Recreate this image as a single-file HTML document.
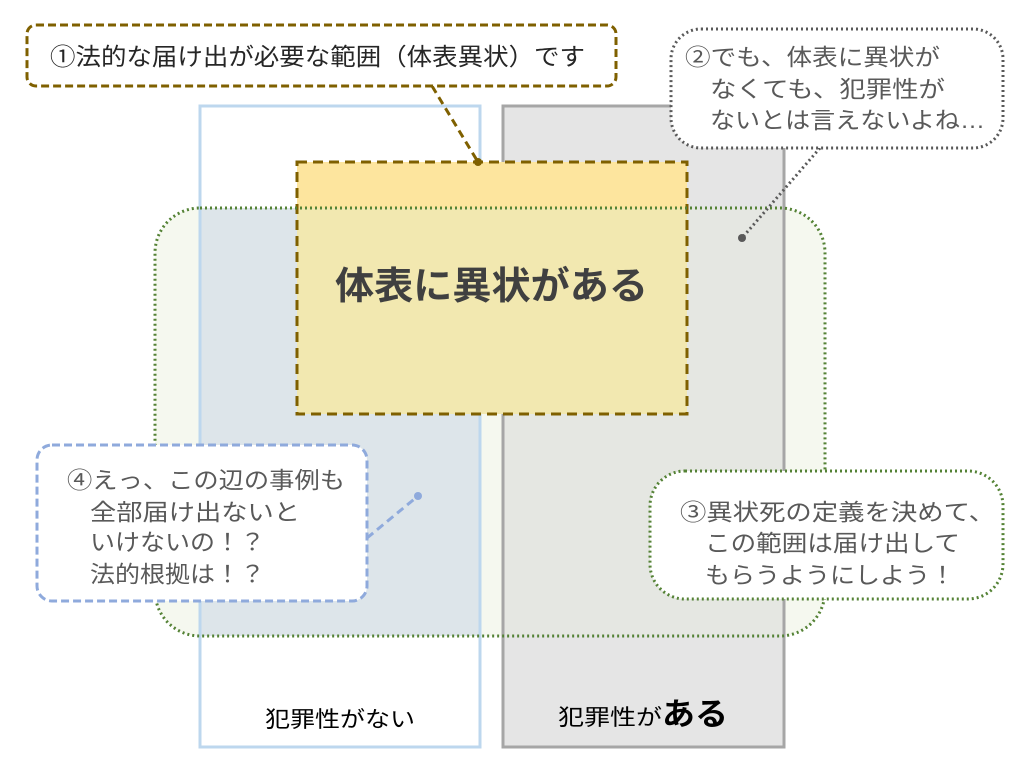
<!DOCTYPE html>
<html><head><meta charset="utf-8"><style>
body{margin:0;background:#fff;width:1024px;height:768px;overflow:hidden}
svg{display:block}
text{font-family:"Liberation Sans","Noto Sans CJK JP",sans-serif}
</style></head><body>
<svg width="1024" height="768" viewBox="0 0 1024 768">
<defs><clipPath id="g"><rect x="155" y="208" width="670" height="428" rx="45"/></clipPath></defs>
<rect x="200" y="106" width="280" height="641" fill="#fff"/>
<rect x="503" y="106" width="281" height="641" fill="#e5e5e5"/>
<rect x="155" y="208" width="670" height="428" rx="45" fill="#f5f8ef"/>
<g clip-path="url(#g)">
<rect x="200" y="208" width="280" height="428" fill="#dde5ea"/>
<rect x="503" y="208" width="281" height="428" fill="#e5e7e2"/>
</g>
<rect x="200" y="106" width="280" height="641" fill="none" stroke="#bdd7ee" stroke-width="3"/>
<rect x="503" y="106" width="281" height="641" fill="none" stroke="#a6a6a6" stroke-width="3"/>
<rect x="297" y="162" width="390" height="252" fill="#fde59e"/>
<rect x="297" y="208" width="390" height="206" fill="#f2e8b0"/>
<rect x="297" y="162" width="390" height="252" fill="none" stroke="#7f6000" stroke-width="3" stroke-dasharray="10,6"/>
<rect x="155" y="208" width="670" height="428" rx="45" fill="none" stroke="#548235" stroke-width="3" stroke-dasharray="2,3"/>
<text x="335" y="299" font-size="38" font-weight="bold" fill="#404040" textLength="313" lengthAdjust="spacingAndGlyphs">体表に異状がある</text>
<line x1="432" y1="86" x2="478" y2="162" stroke="#7f6000" stroke-width="3" stroke-dasharray="8,5"/>
<circle cx="478" cy="162" r="4" fill="#7f6000"/>
<rect x="27" y="25" width="589" height="61" rx="9" fill="#fff" stroke="#7f6000" stroke-width="3" stroke-dasharray="8,4"/>
<text x="50" y="65" font-size="24" fill="#262626" textLength="535" lengthAdjust="spacingAndGlyphs">①法的な届け出が必要な範囲（体表異状）です</text>
<line x1="820" y1="148" x2="742" y2="238" stroke="#595959" stroke-width="3" stroke-dasharray="2,3"/>
<circle cx="742" cy="238" r="4" fill="#595959"/>
<rect x="671" y="29" width="332" height="119" rx="30" fill="#fff" stroke="#595959" stroke-width="3" stroke-dasharray="2,3"/>
<g font-size="23" fill="#595959">
<text x="685" y="65" textLength="255" lengthAdjust="spacingAndGlyphs">②でも、体表に異状が</text>
<text x="710" y="97" textLength="235" lengthAdjust="spacingAndGlyphs">なくても、犯罪性が</text>
<text x="710" y="128" textLength="275" lengthAdjust="spacingAndGlyphs">ないとは言えないよね…</text>
</g>
<line x1="367" y1="538" x2="418" y2="496" stroke="#8faadc" stroke-width="3" stroke-dasharray="8,5"/>
<circle cx="418" cy="496" r="4" fill="#8faadc"/>
<rect x="37" y="445" width="330" height="156" rx="15" fill="#fff" stroke="#8faadc" stroke-width="3" stroke-dasharray="8,4"/>
<g font-size="23" fill="#595959">
<text x="67" y="488" textLength="278" lengthAdjust="spacingAndGlyphs">④えっ、この辺の事例も</text>
<text x="90" y="520" textLength="210" lengthAdjust="spacingAndGlyphs">全部届け出ないと</text>
<text x="90" y="550" textLength="175" lengthAdjust="spacingAndGlyphs">いけないの！？</text>
<text x="90" y="582" textLength="175" lengthAdjust="spacingAndGlyphs">法的根拠は！？</text>
</g>
<rect x="650" y="471" width="353" height="128" rx="35" fill="#fff" stroke="#548235" stroke-width="3" stroke-dasharray="2,3"/>
<g font-size="23" fill="#595959">
<text x="680" y="520" textLength="315" lengthAdjust="spacingAndGlyphs">③異状死の定義を決めて、</text>
<text x="705" y="551" textLength="255" lengthAdjust="spacingAndGlyphs">この範囲は届け出して</text>
<text x="705" y="583" textLength="250" lengthAdjust="spacingAndGlyphs">もらうようにしよう！</text>
</g>
<text x="265" y="727" font-size="22" fill="#000" textLength="150" lengthAdjust="spacingAndGlyphs">犯罪性がない</text>
<text x="558" y="725" font-size="22" fill="#000" textLength="104" lengthAdjust="spacingAndGlyphs">犯罪性が</text>
<text x="662" y="725" font-size="31" font-weight="bold" fill="#000" textLength="66" lengthAdjust="spacingAndGlyphs">ある</text>
</svg>
</body></html>
